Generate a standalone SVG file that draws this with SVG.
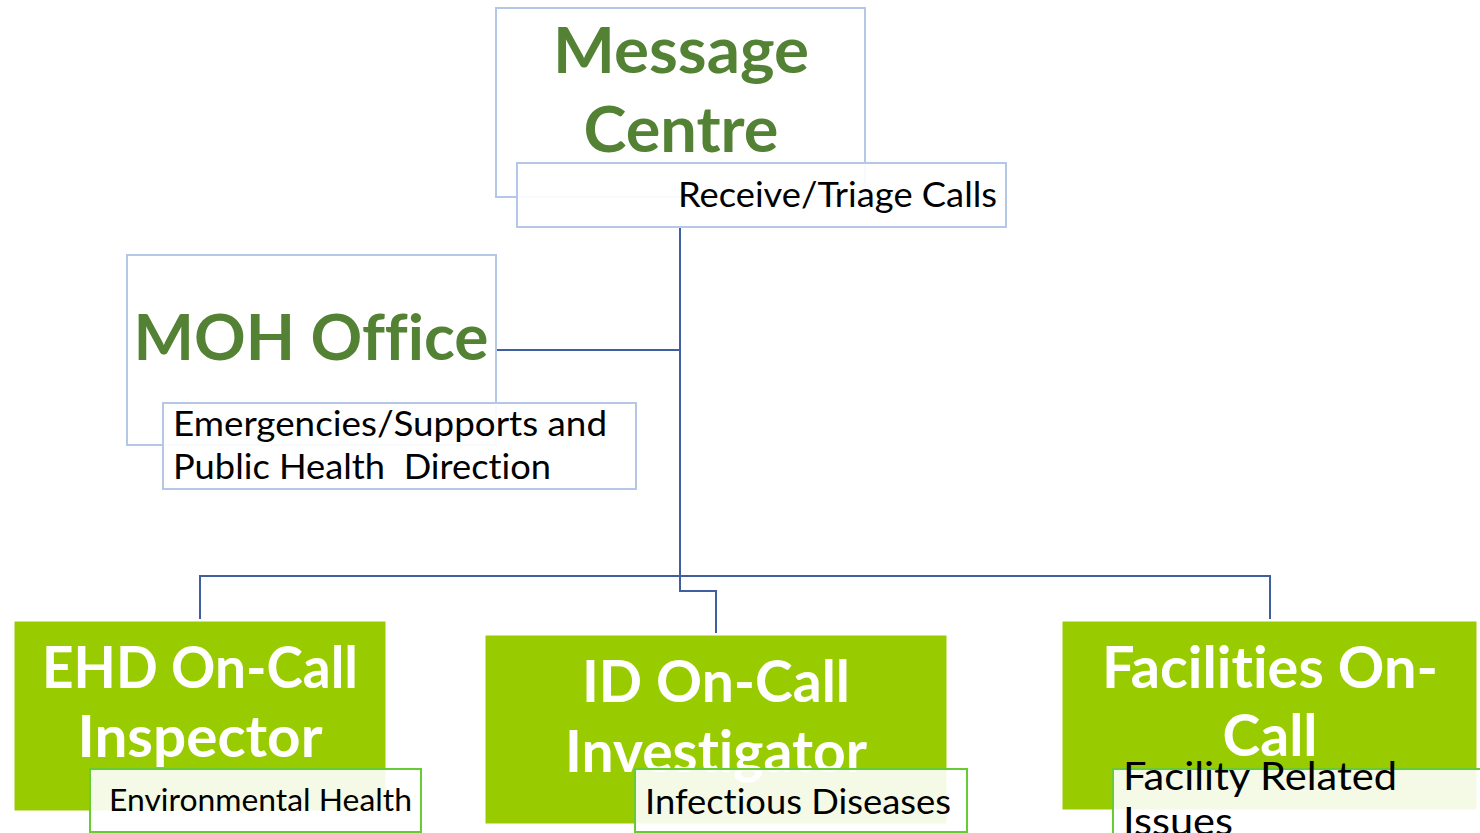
<svg xmlns="http://www.w3.org/2000/svg" width="1480" height="833" viewBox="0 0 1480 833">
<style>
.top{fill:#ffffff;stroke:#b4c7e7;stroke-width:2}
.sub{fill:#ffffff;fill-opacity:0.9;stroke:#b4c7e7;stroke-width:2}
.gbox{fill:#99cc00;stroke:#99cc00;stroke-width:1}
.gsub{fill:#ffffff;fill-opacity:0.9;stroke:#66cc33;stroke-width:2}
text{font-variant-ligatures:none}
.h1{font-family:Lato,"Open Sans",sans-serif;font-weight:bold;fill:#548235;font-size:64px;text-anchor:middle}
.h2{font-family:Lato,"Open Sans",sans-serif;font-weight:bold;fill:#ffffff;font-size:57px;text-anchor:middle}
.t{font-family:Lato,"Open Sans",sans-serif;fill:#000000;font-size:34px}
.conn{fill:none;stroke:#3f5fa0;stroke-width:2}
</style>
<g id="connectors">
<path class="conn" d="M680 227 V576"/>
<path class="conn" d="M497 350 H680"/>
<path class="conn" d="M200 619 V576 H1270 V619"/>
<path class="conn" d="M680 576 V591 H716 V633"/>
</g>
<g id="message-centre">
<rect class="top" x="496" y="8" width="369" height="189"/>
<text class="h1" x="681" y="73" textLength="256" lengthAdjust="spacingAndGlyphs">Message</text>
<text class="h1" x="681" y="152" textLength="195" lengthAdjust="spacingAndGlyphs">Centre</text>
<rect class="sub" x="517" y="163" width="489" height="64"/>
<text class="t" x="678" y="207" textLength="319" lengthAdjust="spacingAndGlyphs">Receive/Triage Calls</text>
</g>
<g id="moh-office">
<rect class="top" x="127" y="255" width="369" height="190"/>
<text class="h1" x="311" y="360">MOH Office</text>
<rect class="sub" x="163" y="403" width="473" height="86"/>
<text class="t" x="173" y="436" textLength="434" lengthAdjust="spacingAndGlyphs">Emergencies/Supports and</text>
<text class="t" x="173" y="479" xml:space="preserve" textLength="378" lengthAdjust="spacingAndGlyphs">Public Health  Direction</text>
</g>
<g id="ehd">
<rect class="gbox" x="15" y="622" width="370" height="188"/>
<text class="h2" x="200" y="688" textLength="316" lengthAdjust="spacingAndGlyphs">EHD On-Call</text>
<text class="h2" x="200" y="757" textLength="245" lengthAdjust="spacingAndGlyphs">Inspector</text>
<rect class="gsub" x="90" y="769" width="331" height="63"/>
<text class="t" x="109" y="811" style="font-size:30px" textLength="303" lengthAdjust="spacingAndGlyphs">Environmental Health</text>
</g>
<g id="id-oncall">
<rect class="gbox" x="486" y="636" width="460" height="187"/>
<text class="h2" x="716" y="702">ID On-Call</text>
<text class="h2" x="716" y="772">Investigator</text>
<rect class="gsub" x="635" y="769" width="332" height="63"/>
<text class="t" x="645" y="814" textLength="306" lengthAdjust="spacingAndGlyphs">Infectious Diseases</text>
</g>
<g id="facilities">
<rect class="gbox" x="1063" y="622" width="413" height="187"/>
<text class="h2" x="1270" y="688" textLength="336" lengthAdjust="spacingAndGlyphs">Facilities On-</text>
<text class="h2" x="1270" y="756">Call</text>
<rect class="gsub" x="1113" y="769" width="370" height="66"/>
<text class="t" x="1123" y="790" style="font-size:39px" textLength="274" lengthAdjust="spacingAndGlyphs">Facility Related</text>
<text class="t" x="1123" y="835" style="font-size:39px" textLength="110" lengthAdjust="spacingAndGlyphs">Issues</text>
</g>
</svg>
